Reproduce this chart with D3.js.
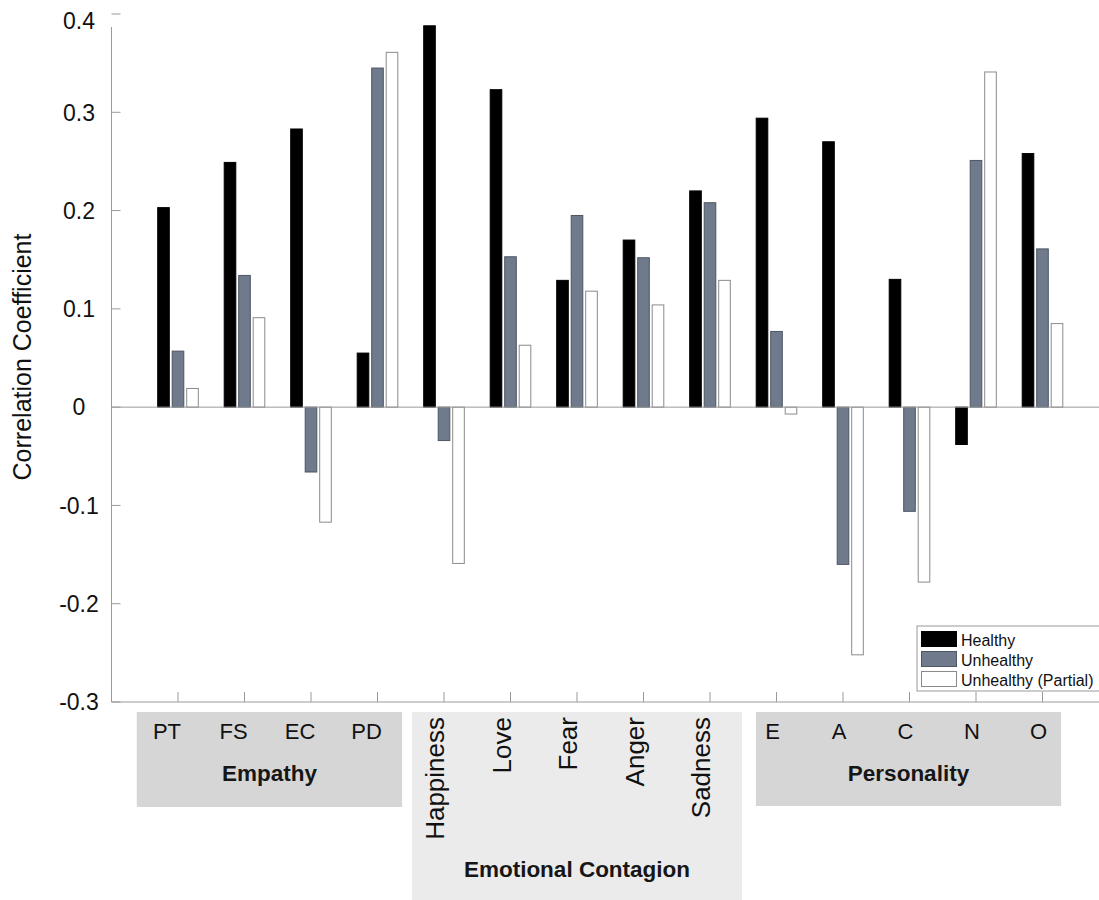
<html>
<head>
    <meta http-equiv="Content-Type" content="text/html;charset=utf-8">
    <title>Correlation Coefficient - grouped bars</title>
    <style>
        body { margin: 0; background: #fff; }
        svg { display: block; font-family: "Liberation Sans", Arial, Helvetica, sans-serif; }
    </style>
</head>
<body>
</body>
<script type="text/javascript" src="https://cdn.jsdelivr.net/npm/d3@7/dist/d3.min.js"></script>
<script>
    var w = 1099, h = 900;

    var categories = ['PT', 'FS', 'EC', 'PD', 'Happiness', 'Love', 'Fear', 'Anger', 'Sadness', 'E', 'A', 'C', 'N', 'O'];
    var healthy   = [0.203, 0.249, 0.283, 0.055, 0.388, 0.323, 0.129, 0.170, 0.220, 0.294, 0.270, 0.130, -0.038, 0.258];
    var unhealthy = [0.057, 0.134, -0.066, 0.345, -0.034, 0.153, 0.195, 0.152, 0.208, 0.077, -0.160, -0.106, 0.251, 0.161];
    var partial   = [0.019, 0.091, -0.117, 0.361, -0.159, 0.063, 0.118, 0.104, 0.129, -0.007, -0.252, -0.178, 0.341, 0.085];
    var seriesNames = ['Healthy', 'Unhealthy', 'Unhealthy (Partial)'];
    var yTicks = [0.4, 0.3, 0.2, 0.1, 0, -0.1, -0.2, -0.3];
    var yTickLabels = ['0.4', '0.3', '0.2', '0.1', '0', '-0.1', '-0.2', '-0.3'];
    var groupNames = ['Empathy', 'Emotional Contagion', 'Personality'];
    var groupFirst = [0, 4, 9];
    var groupLast = [3, 8, 13];

    var fills = ['#000000', '#6f7b8c', '#ffffff'];
    var strokes = ['#000000', '#4d5663', '#8a8a8a'];

    // group label boxes, in category units around the first/last tick
    var boxes = [
        {left: 0.62, right: 0.37, top: 712, bottom: 807, fill: '#d6d6d6', titleY: 781, rotate: false, dx: -11},
        {left: 0.48, right: 0.48, top: 712, bottom: 900, fill: '#ebebeb', titleY: 877, rotate: true, dx: 0},
        {left: 0.31, right: 0.28, top: 712, bottom: 806, fill: '#d6d6d6', titleY: 781, rotate: false, dx: -4}
    ];

    var series = [healthy, unhealthy, partial];

    var svg = d3.select('body')
            .append('svg')
            .attr('width', w)
            .attr('height', h);

    var x = d3.scaleLinear().domain([0, 15]).range([111.5, 1109]);
    var y = d3.scaleLinear().domain([-0.3, 0.4]).range([702, 14]);
    var inner = d3.scaleBand().domain(d3.range(3)).range([-20.3, 20.3]).paddingInner(0.2);

    // group boxes and labels under the axis
    groupNames.forEach(function (name, g) {
        var b = boxes[g];
        var x0 = x(groupFirst[g] + 1 - b.left), x1 = x(groupLast[g] + 1 + b.right);
        svg.append('rect')
            .attr('x', x0)
            .attr('y', b.top)
            .attr('width', x1 - x0)
            .attr('height', b.bottom - b.top)
            .attr('fill', b.fill);

        svg.append('text')
            .attr('x', (x0 + x1) / 2)
            .attr('y', b.titleY)
            .attr('text-anchor', 'middle')
            .attr('font-size', 22.5)
            .attr('font-weight', 'bold')
            .attr('fill', '#161616')
            .text(name);

        for (var i = groupFirst[g]; i <= groupLast[g]; i++) {
            if (b.rotate) {
                svg.append('text')
                    .attr('transform', 'translate(' + x(i + 1) + ',717) rotate(-90)')
                    .attr('text-anchor', 'end')
                    .attr('font-size', 26)
                    .attr('fill', '#111')
                    .text(categories[i]);
            } else {
                svg.append('text')
                    .attr('x', x(i + 1) + b.dx)
                    .attr('y', 739)
                    .attr('text-anchor', 'middle')
                    .attr('font-size', 22)
                    .attr('fill', '#111')
                    .text(categories[i]);
            }
        }
    });

    // axes
    var axisColor = '#9a9a9a';
    svg.append('line')
        .attr('x1', x(0)).attr('x2', w)
        .attr('y1', y(-0.3)).attr('y2', y(-0.3))
        .attr('stroke', axisColor);
    svg.append('line')
        .attr('x1', x(0)).attr('x2', x(0))
        .attr('y1', 27).attr('y2', y(-0.3))
        .attr('stroke', axisColor);

    svg.selectAll('.xtick')
        .data(categories)
        .enter()
        .append('line')
        .attr('class', 'xtick')
        .attr('x1', function (d, i) { return x(i + 1); })
        .attr('x2', function (d, i) { return x(i + 1); })
        .attr('y1', y(-0.3))
        .attr('y2', y(-0.3) - 10)
        .attr('stroke', axisColor);

    svg.selectAll('.ytick')
        .data(yTicks)
        .enter()
        .append('line')
        .attr('class', 'ytick')
        .attr('x1', x(0))
        .attr('x2', x(0) + 9)
        .attr('y1', function (d) { return y(d); })
        .attr('y2', function (d) { return y(d); })
        .attr('stroke', axisColor);

    svg.selectAll('.ylabel')
        .data(yTicks)
        .enter()
        .append('text')
        .attr('class', 'ylabel')
        .attr('x', 79)
        .attr('y', function (d) { return d === 0.4 ? y(d) + 7 : y(d); })
        .attr('dy', '0.36em')
        .attr('text-anchor', 'middle')
        .attr('font-size', 23)
        .attr('fill', '#111')
        .text(function (d, i) { return yTickLabels[i]; });

    svg.append('text')
        .attr('transform', 'translate(31,357) rotate(-90)')
        .attr('text-anchor', 'middle')
        .attr('font-size', 25)
        .attr('fill', '#111')
        .text('Correlation Coefficient');

    // bars
    series.forEach(function (values, s) {
        svg.selectAll('.bar' + s)
            .data(values)
            .enter()
            .append('rect')
            .attr('class', 'bar' + s)
            .attr('x', function (d, i) { return x(i + 1) + inner(s); })
            .attr('width', inner.bandwidth())
            .attr('y', function (d) { return y(Math.max(0, d)); })
            .attr('height', function (d) { return Math.abs(y(d) - y(0)); })
            .attr('fill', fills[s])
            .attr('stroke', strokes[s])
            .attr('stroke-width', 1);
    });

    // zero baseline
    svg.append('line')
        .attr('x1', x(0)).attr('x2', w)
        .attr('y1', y(0)).attr('y2', y(0))
        .attr('stroke', axisColor);

    // legend
    var legend = svg.append('g').attr('transform', 'translate(917,626)');
    legend.append('rect')
        .attr('x', 0).attr('y', 0)
        .attr('width', 190).attr('height', 65)
        .attr('fill', '#fff')
        .attr('stroke', axisColor);
    seriesNames.forEach(function (name, s) {
        legend.append('rect')
            .attr('x', 4.5)
            .attr('y', 5.5 + s * 20)
            .attr('width', 35)
            .attr('height', 15)
            .attr('fill', fills[s])
            .attr('stroke', strokes[s]);
        legend.append('text')
            .attr('x', 44)
            .attr('y', 20 + s * 20)
            .attr('font-size', 16)
            .attr('fill', '#111')
            .text(name);
    });

</script>

</html>
